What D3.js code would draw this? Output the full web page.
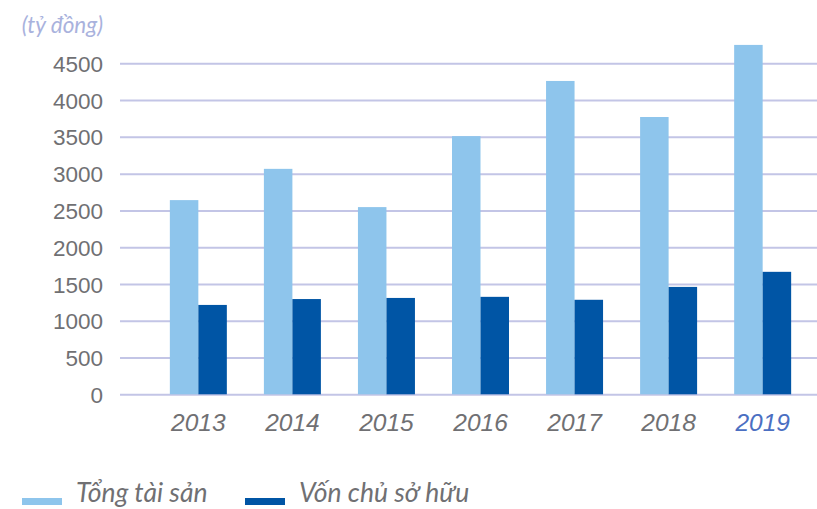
<!DOCTYPE html>
<html>
<head>
<meta charset="utf-8">
<script src="https://cdn.jsdelivr.net/npm/d3@7"></script>
<style>
  html, body { margin: 0; padding: 0; background: #fff; }
  svg { display: block; font-family: Lato, "Open Sans", sans-serif; }
  .grid line { stroke: #c3c5e6; stroke-width: 2; }
  .y-axis text { fill: #707073; font-size: 22.5px; }
  .x-axis text { fill: #707073; font-size: 24.5px; font-style: italic; }
  .unit { fill: #a9b2dd; font-size: 22.5px; font-style: italic; }
  .legend text { fill: #707073; font-size: 26.5px; font-style: italic; }
</style>
</head>
<body>
<svg id="chart" width="817" height="509"></svg>
<script>
(function () {
    'use strict';

    // Data
    const years = ['2013', '2014', '2015', '2016', '2017', '2018', '2019'];
    const seriesNames = ['Tổng tài sản', 'Vốn chủ sở hữu'];
    const totalAssets = [2640, 3065, 2545, 3510, 4260, 3770, 4750];
    const equity = [1215, 1295, 1310, 1325, 1285, 1460, 1665];
    const yTicks = [0, 500, 1000, 1500, 2000, 2500, 3000, 3500, 4000, 4500];
    const unitLabel = '(tỷ đồng)';

    const CONFIG = {
        colors: ['#8ec5ec', '#0055a5'],
        highlightYear: '2019',
        highlightColor: '#4b6fc2'
    };

    const svg = d3.select('#chart');
    const left = 120, right = 817, top = 63.3, bottom = 394.3;

    const rows = years.map((y, i) => ({ year: y, values: [totalAssets[i], equity[i]] }));

    // Scales
    const y = d3.scaleLinear().domain([0, 4500]).range([bottom, top]);
    const x0 = d3.scaleBand().domain(years).range([left, 841])
        .paddingInner(0.394).paddingOuter(0.53);
    const x1 = d3.scaleBand().domain([0, 1]).range([0, x0.bandwidth()]);

    // Gridlines + y labels
    const yAxis = svg.append('g')
        .attr('class', 'grid y-axis')
        .attr('transform', `translate(${left},0)`)
        .call(d3.axisLeft(y).tickValues(yTicks).tickFormat(d3.format('d'))
            .tickSize(-(right - left)).tickPadding(17));
    yAxis.select('.domain').remove();
    yAxis.selectAll('text').attr('dy', '0.36em');

    // Unit label
    svg.append('text')
        .attr('class', 'unit')
        .attr('x', 103)
        .attr('y', 33)
        .attr('text-anchor', 'end')
        .text(unitLabel);

    // Bars
    svg.append('g')
        .selectAll('g')
        .data(rows)
        .join('g')
        .attr('transform', d => `translate(${x0(d.year)},0)`)
        .selectAll('rect')
        .data(d => d.values.map((v, k) => ({ k, v })))
        .join('rect')
        .attr('x', d => x1(d.k))
        .attr('width', x1.bandwidth())
        .attr('y', d => y(d.v))
        .attr('height', d => y(0) - y(d.v))
        .attr('fill', d => CONFIG.colors[d.k]);

    // X axis labels
    const xAxis = svg.append('g')
        .attr('class', 'x-axis')
        .attr('transform', `translate(0,${bottom})`)
        .call(d3.axisBottom(x0).tickSize(0).tickPadding(19));
    xAxis.select('.domain').remove();
    xAxis.selectAll('text')
        .style('fill', d => d === CONFIG.highlightYear ? CONFIG.highlightColor : null);

    // Legend
    const legendX = [22, 245];
    const legend = svg.append('g').attr('class', 'legend')
        .selectAll('g')
        .data(seriesNames)
        .join('g')
        .attr('transform', (d, i) => `translate(${legendX[i]},0)`);
    legend.append('rect')
        .attr('x', 0).attr('y', 498)
        .attr('width', 40).attr('height', 7)
        .attr('fill', (d, i) => CONFIG.colors[i]);
    legend.append('text')
        .attr('x', 54).attr('y', 502)
        .text(d => d);
})();
</script>
</body>
</html>
